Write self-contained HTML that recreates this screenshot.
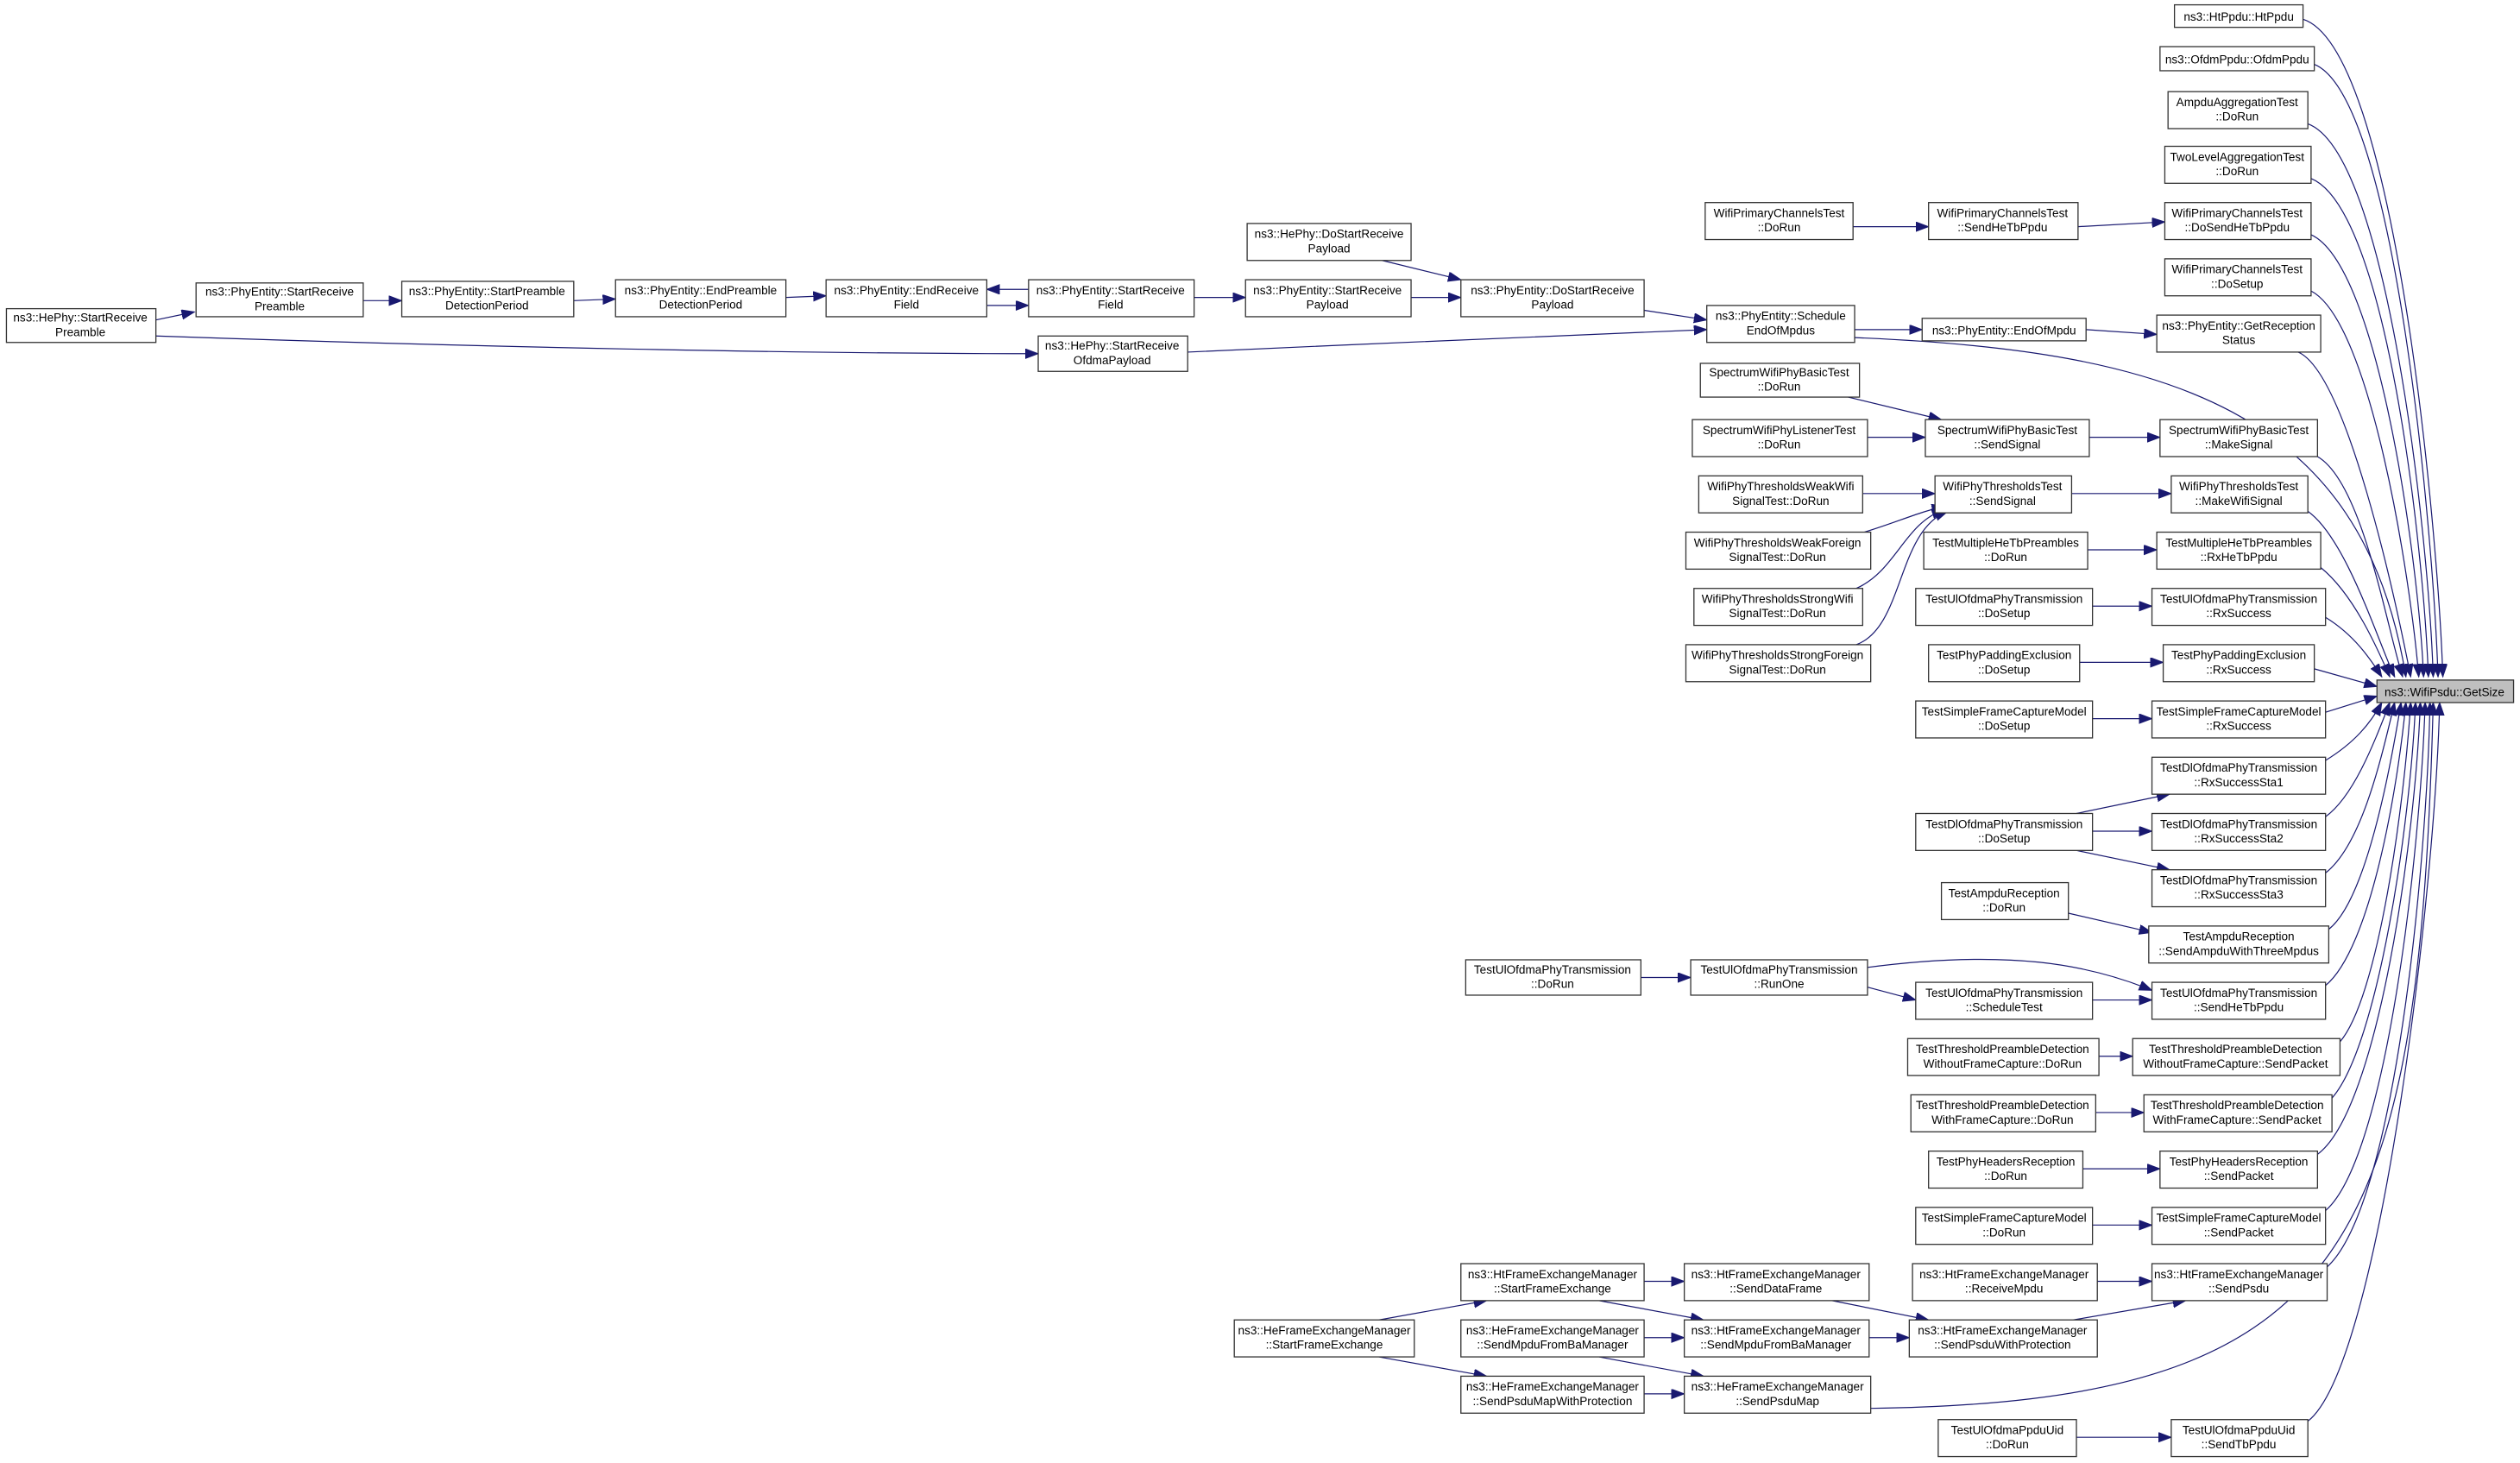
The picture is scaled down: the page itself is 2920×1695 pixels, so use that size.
<!DOCTYPE html>
<html><head><meta charset="utf-8"><style>
html,body{margin:0;padding:0;background:#fff;}
svg{display:block;}
text{font-family:"Liberation Sans",Arial,sans-serif;font-size:7.3px;fill:#000;text-anchor:middle;}
rect{fill:#fff;stroke:#333;stroke-width:0.7;}
path{fill:none;stroke:#191970;stroke-width:0.65;}
</style></head><body>
<svg width="2920" height="1695" viewBox="0 0 1568 910" preserveAspectRatio="none" xmlns="http://www.w3.org/2000/svg">
<defs><marker id="a" markerUnits="userSpaceOnUse" markerWidth="9" markerHeight="7" refX="8" refY="3" orient="auto"><path d="M0,0 L8,3 L0,6 z" style="fill:#191970;stroke:#191970;stroke-width:0.5"/></marker></defs>
<g marker-end="url(#a)">
<path d="M1433,12 C1490,30 1517,330 1520,421"/>
<path d="M1440,40 C1490,60 1514,330 1517,421"/>
<path d="M1436,77 C1485,95 1511,330 1514,421"/>
<path d="M1438,111 C1485,130 1508,340 1511,421"/>
<path d="M1438,146 C1480,165 1505,350 1508,421"/>
<path d="M1438,181 C1475,200 1500,360 1505,421"/>
<path d="M1430,219 C1460,232 1490,370 1500,421"/>
<path d="M1154,210 C1350,218 1470,255 1497,421"/>
<path d="M1442,284 C1470,300 1485,390 1495,421"/>
<path d="M1436,318 C1460,335 1480,400 1490,421"/>
<path d="M1444,353 C1465,370 1480,405 1487,421"/>
<path d="M1447,384 C1465,395 1475,410 1482,421"/>
<path d="M1440,416 L1479,427"/>
<path d="M1447,443 L1479,433"/>
<path d="M1447,473 C1465,462 1475,450 1482,437"/>
<path d="M1447,508 C1465,495 1478,460 1487,437"/>
<path d="M1447,543 C1470,525 1482,470 1490,437"/>
<path d="M1449,578 C1472,560 1487,480 1494,437"/>
<path d="M1447,613 C1475,590 1492,490 1497,437"/>
<path d="M1456,648 C1480,620 1496,500 1500,437"/>
<path d="M1451,683 C1480,650 1500,510 1503,437"/>
<path d="M1442,718 C1480,690 1503,520 1506,437"/>
<path d="M1447,753 C1485,720 1506,530 1509,437"/>
<path d="M1448,788 C1490,750 1510,540 1512,437"/>
<path d="M1164,876 C1460,872 1505,780 1514,437"/>
<path d="M1436,884 C1480,850 1515,560 1518,437"/>

<path d="M1153,141 L1200,141"/>
<path d="M1293,141 L1347,138"/>
<path d="M1154,205 L1196,205"/>
<path d="M1298,205 L1342,208"/>
<path d="M739,219 C850,214 980,208 1062,205"/>
<path d="M1023,193 L1062,199"/>
<path d="M97,209 C300,216 500,220 646,220"/>
<path d="M97,199 L121,194"/>
<path d="M226,187 L250,187"/>
<path d="M357,187 L383,186"/>
<path d="M489,185 L514,184"/>
<path d="M640,180 L614,180"/>
<path d="M614,190 L640,190"/>
<path d="M743,185 L775,185"/>
<path d="M878,185 L909,185"/>
<path d="M860,162 L909,174"/>
<path d="M1150,247 L1208,261"/>
<path d="M1162,272 L1198,272"/>
<path d="M1300,272 L1344,272"/>
<path d="M1159,307 L1204,307"/>
<path d="M1160,331 C1180,325 1195,318 1210,315"/>
<path d="M1155,366 C1180,355 1185,325 1210,317"/>
<path d="M1155,401 C1185,390 1180,330 1212,318"/>
<path d="M1289,307 L1351,307"/>
<path d="M1299,342 L1342,342"/>
<path d="M1302,377 L1339,377"/>
<path d="M1294,412 L1346,412"/>
<path d="M1302,447 L1339,447"/>
<path d="M1292,506 L1350,494"/>
<path d="M1302,517 L1339,517"/>
<path d="M1292,529 L1350,541"/>
<path d="M1287,568 L1339,580"/>
<path d="M1021,608 L1052,608"/>
<path d="M1162,614 L1192,622"/>
<path d="M1160,602 C1250,590 1300,600 1339,616"/>
<path d="M1302,622 L1339,622"/>
<path d="M1306,657 L1327,657"/>
<path d="M1304,692 L1334,692"/>
<path d="M1296,727 L1344,727"/>
<path d="M1302,762 L1339,762"/>
<path d="M1305,797 L1339,797"/>
<path d="M1290,821 L1360,809"/>
<path d="M1140,809 L1200,821"/>
<path d="M1163,832 L1188,832"/>
<path d="M1023,797 L1048,797"/>
<path d="M995,809 L1060,821"/>
<path d="M1023,832 L1048,832"/>
<path d="M995,844 L1060,856"/>
<path d="M858,821 L925,809"/>
<path d="M858,844 L925,856"/>
<path d="M1023,867 L1048,867"/>
<path d="M1292,894 L1351,894"/>
</g>

<rect x="1479" y="423" width="85" height="14" style="fill:#bfbfbf"/><text x="1521" y="433">ns3::WifiPsdu::GetSize</text>

<rect x="1353" y="3" width="80" height="14"/><text x="1393" y="13">ns3::HtPpdu::HtPpdu</text>
<rect x="1344" y="29" width="96" height="15"/><text x="1392" y="39.5">ns3::OfdmPpdu::OfdmPpdu</text>
<rect x="1349" y="57" width="87" height="23"/><text x="1392" y="66">AmpduAggregationTest</text><text x="1392" y="75">::DoRun</text>
<rect x="1347" y="91" width="91" height="23"/><text x="1392" y="100">TwoLevelAggregationTest</text><text x="1392" y="109">::DoRun</text>
<rect x="1347" y="126" width="91" height="23"/><text x="1392" y="135">WifiPrimaryChannelsTest</text><text x="1392" y="144">::DoSendHeTbPpdu</text>
<rect x="1347" y="161" width="91" height="23"/><text x="1392" y="170">WifiPrimaryChannelsTest</text><text x="1392" y="179">::DoSetup</text>
<rect x="1342" y="196" width="102" height="23"/><text x="1393" y="205">ns3::PhyEntity::GetReception</text><text x="1393" y="214">Status</text>
<rect x="1344" y="261" width="98" height="23"/><text x="1393" y="270">SpectrumWifiPhyBasicTest</text><text x="1393" y="279">::MakeSignal</text>
<rect x="1351" y="296" width="85" height="23"/><text x="1393" y="305">WifiPhyThresholdsTest</text><text x="1393" y="314">::MakeWifiSignal</text>
<rect x="1342" y="331" width="102" height="23"/><text x="1393" y="340">TestMultipleHeTbPreambles</text><text x="1393" y="349">::RxHeTbPpdu</text>
<rect x="1339" y="366" width="108" height="23"/><text x="1393" y="375">TestUlOfdmaPhyTransmission</text><text x="1393" y="384">::RxSuccess</text>
<rect x="1346" y="401" width="94" height="23"/><text x="1393" y="410">TestPhyPaddingExclusion</text><text x="1393" y="419">::RxSuccess</text>
<rect x="1339" y="436" width="108" height="23"/><text x="1393" y="445">TestSimpleFrameCaptureModel</text><text x="1393" y="454">::RxSuccess</text>
<rect x="1339" y="471" width="108" height="23"/><text x="1393" y="480">TestDlOfdmaPhyTransmission</text><text x="1393" y="489">::RxSuccessSta1</text>
<rect x="1339" y="506" width="108" height="23"/><text x="1393" y="515">TestDlOfdmaPhyTransmission</text><text x="1393" y="524">::RxSuccessSta2</text>
<rect x="1339" y="541" width="108" height="23"/><text x="1393" y="550">TestDlOfdmaPhyTransmission</text><text x="1393" y="559">::RxSuccessSta3</text>
<rect x="1337" y="576" width="112" height="23"/><text x="1393" y="585">TestAmpduReception</text><text x="1393" y="594">::SendAmpduWithThreeMpdus</text>
<rect x="1339" y="611" width="108" height="23"/><text x="1393" y="620">TestUlOfdmaPhyTransmission</text><text x="1393" y="629">::SendHeTbPpdu</text>
<rect x="1327" y="646" width="129" height="23"/><text x="1391" y="655">TestThresholdPreambleDetection</text><text x="1391" y="664">WithoutFrameCapture::SendPacket</text>
<rect x="1334" y="681" width="117" height="23"/><text x="1392" y="690">TestThresholdPreambleDetection</text><text x="1392" y="699">WithFrameCapture::SendPacket</text>
<rect x="1344" y="716" width="98" height="23"/><text x="1393" y="725">TestPhyHeadersReception</text><text x="1393" y="734">::SendPacket</text>
<rect x="1339" y="751" width="108" height="23"/><text x="1393" y="760">TestSimpleFrameCaptureModel</text><text x="1393" y="769">::SendPacket</text>
<rect x="1339" y="786" width="109" height="23"/><text x="1393" y="795">ns3::HtFrameExchangeManager</text><text x="1393" y="804">::SendPsdu</text>
<rect x="1351" y="883" width="85" height="23"/><text x="1393" y="892">TestUlOfdmaPpduUid</text><text x="1393" y="901">::SendTbPpdu</text>

<rect x="1200" y="126" width="93" height="23"/><text x="1246" y="135">WifiPrimaryChannelsTest</text><text x="1246" y="144">::SendHeTbPpdu</text>
<rect x="1196" y="198" width="102" height="14"/><text x="1247" y="208">ns3::PhyEntity::EndOfMpdu</text>
<rect x="1198" y="261" width="102" height="23"/><text x="1249" y="270">SpectrumWifiPhyBasicTest</text><text x="1249" y="279">::SendSignal</text>
<rect x="1204" y="296" width="85" height="23"/><text x="1246" y="305">WifiPhyThresholdsTest</text><text x="1246" y="314">::SendSignal</text>
<rect x="1197" y="331" width="102" height="23"/><text x="1248" y="340">TestMultipleHeTbPreambles</text><text x="1248" y="349">::DoRun</text>
<rect x="1192" y="366" width="110" height="23"/><text x="1247" y="375">TestUlOfdmaPhyTransmission</text><text x="1247" y="384">::DoSetup</text>
<rect x="1200" y="401" width="94" height="23"/><text x="1247" y="410">TestPhyPaddingExclusion</text><text x="1247" y="419">::DoSetup</text>
<rect x="1192" y="436" width="110" height="23"/><text x="1247" y="445">TestSimpleFrameCaptureModel</text><text x="1247" y="454">::DoSetup</text>
<rect x="1192" y="506" width="110" height="23"/><text x="1247" y="515">TestDlOfdmaPhyTransmission</text><text x="1247" y="524">::DoSetup</text>
<rect x="1208" y="549" width="79" height="23"/><text x="1247" y="558">TestAmpduReception</text><text x="1247" y="567">::DoRun</text>
<rect x="1192" y="611" width="110" height="23"/><text x="1247" y="620">TestUlOfdmaPhyTransmission</text><text x="1247" y="629">::ScheduleTest</text>
<rect x="1187" y="646" width="119" height="23"/><text x="1246" y="655">TestThresholdPreambleDetection</text><text x="1246" y="664">WithoutFrameCapture::DoRun</text>
<rect x="1189" y="681" width="115" height="23"/><text x="1246" y="690">TestThresholdPreambleDetection</text><text x="1246" y="699">WithFrameCapture::DoRun</text>
<rect x="1200" y="716" width="96" height="23"/><text x="1248" y="725">TestPhyHeadersReception</text><text x="1248" y="734">::DoRun</text>
<rect x="1192" y="751" width="110" height="23"/><text x="1247" y="760">TestSimpleFrameCaptureModel</text><text x="1247" y="769">::DoRun</text>
<rect x="1190" y="786" width="115" height="23"/><text x="1247" y="795">ns3::HtFrameExchangeManager</text><text x="1247" y="804">::ReceiveMpdu</text>
<rect x="1188" y="821" width="117" height="23"/><text x="1246" y="830">ns3::HtFrameExchangeManager</text><text x="1246" y="839">::SendPsduWithProtection</text>
<rect x="1206" y="883" width="86" height="23"/><text x="1249" y="892">TestUlOfdmaPpduUid</text><text x="1249" y="901">::DoRun</text>

<rect x="1061" y="126" width="92" height="23"/><text x="1107" y="135">WifiPrimaryChannelsTest</text><text x="1107" y="144">::DoRun</text>
<rect x="1062" y="190" width="92" height="23"/><text x="1108" y="199">ns3::PhyEntity::Schedule</text><text x="1108" y="208">EndOfMpdus</text>
<rect x="1058" y="226" width="99" height="21"/><text x="1107" y="234">SpectrumWifiPhyBasicTest</text><text x="1107" y="243">::DoRun</text>
<rect x="1053" y="261" width="109" height="23"/><text x="1107" y="270">SpectrumWifiPhyListenerTest</text><text x="1107" y="279">::DoRun</text>
<rect x="1057" y="296" width="102" height="23"/><text x="1108" y="305">WifiPhyThresholdsWeakWifi</text><text x="1108" y="314">SignalTest::DoRun</text>
<rect x="1049" y="331" width="115" height="23"/><text x="1106" y="340">WifiPhyThresholdsWeakForeign</text><text x="1106" y="349">SignalTest::DoRun</text>
<rect x="1054" y="366" width="105" height="23"/><text x="1106" y="375">WifiPhyThresholdsStrongWifi</text><text x="1106" y="384">SignalTest::DoRun</text>
<rect x="1049" y="401" width="115" height="23"/><text x="1106" y="410">WifiPhyThresholdsStrongForeign</text><text x="1106" y="419">SignalTest::DoRun</text>
<rect x="1052" y="597" width="110" height="22"/><text x="1107" y="605.5">TestUlOfdmaPhyTransmission</text><text x="1107" y="614.5">::RunOne</text>
<rect x="1048" y="786" width="115" height="23"/><text x="1105" y="795">ns3::HtFrameExchangeManager</text><text x="1105" y="804">::SendDataFrame</text>
<rect x="1048" y="821" width="115" height="23"/><text x="1105" y="830">ns3::HtFrameExchangeManager</text><text x="1105" y="839">::SendMpduFromBaManager</text>
<rect x="1048" y="856" width="116" height="23"/><text x="1106" y="865">ns3::HeFrameExchangeManager</text><text x="1106" y="874">::SendPsduMap</text>

<rect x="909" y="174" width="114" height="23"/><text x="966" y="183">ns3::PhyEntity::DoStartReceive</text><text x="966" y="192">Payload</text>
<rect x="912" y="597" width="109" height="22"/><text x="966" y="605.5">TestUlOfdmaPhyTransmission</text><text x="966" y="614.5">::DoRun</text>
<rect x="909" y="786" width="114" height="23"/><text x="966" y="795">ns3::HtFrameExchangeManager</text><text x="966" y="804">::StartFrameExchange</text>
<rect x="909" y="821" width="114" height="23"/><text x="966" y="830">ns3::HeFrameExchangeManager</text><text x="966" y="839">::SendMpduFromBaManager</text>
<rect x="909" y="856" width="114" height="23"/><text x="966" y="865">ns3::HeFrameExchangeManager</text><text x="966" y="874">::SendPsduMapWithProtection</text>

<rect x="776" y="139" width="102" height="23"/><text x="827" y="148">ns3::HePhy::DoStartReceive</text><text x="827" y="157">Payload</text>
<rect x="775" y="174" width="103" height="23"/><text x="826" y="183">ns3::PhyEntity::StartReceive</text><text x="826" y="192">Payload</text>
<rect x="768" y="821" width="112" height="23"/><text x="824" y="830">ns3::HeFrameExchangeManager</text><text x="824" y="839">::StartFrameExchange</text>
<rect x="646" y="209" width="93" height="22"/><text x="692" y="217.5">ns3::HePhy::StartReceive</text><text x="692" y="226.5">OfdmaPayload</text>
<rect x="640" y="174" width="103" height="23"/><text x="691" y="183">ns3::PhyEntity::StartReceive</text><text x="691" y="192">Field</text>
<rect x="514" y="174" width="100" height="23"/><text x="564" y="183">ns3::PhyEntity::EndReceive</text><text x="564" y="192">Field</text>
<rect x="383" y="174" width="106" height="23"/><text x="436" y="183">ns3::PhyEntity::EndPreamble</text><text x="436" y="192">DetectionPeriod</text>
<rect x="250" y="175" width="107" height="22"/><text x="303" y="183.5">ns3::PhyEntity::StartPreamble</text><text x="303" y="192.5">DetectionPeriod</text>
<rect x="122" y="176" width="104" height="21"/><text x="174" y="184">ns3::PhyEntity::StartReceive</text><text x="174" y="193">Preamble</text>
<rect x="4" y="192" width="93" height="21"/><text x="50" y="200">ns3::HePhy::StartReceive</text><text x="50" y="209">Preamble</text>
</svg>
</body></html>
